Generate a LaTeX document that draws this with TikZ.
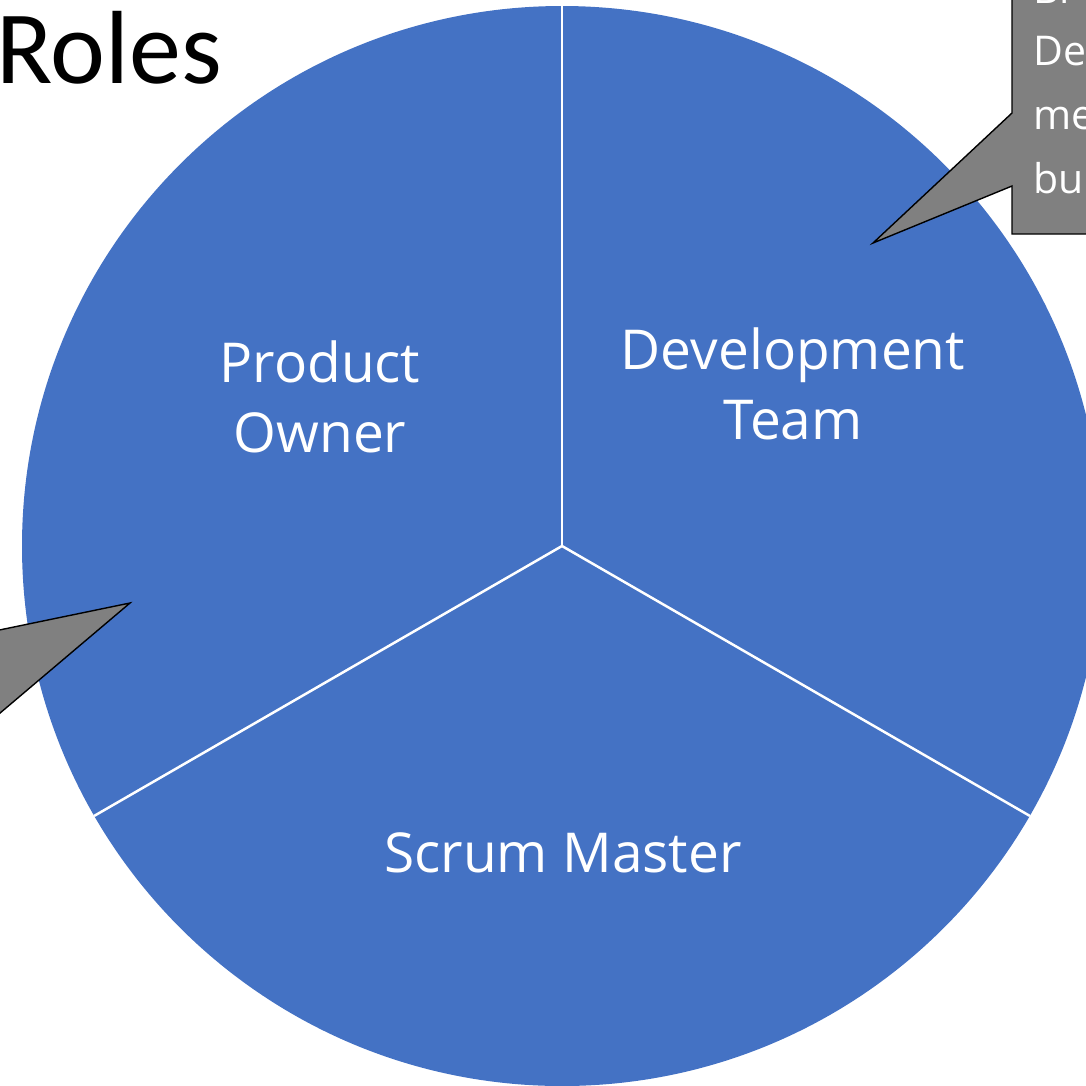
\documentclass[tikz,border=0pt]{standalone}
\usepackage{fontspec}
\setmainfont{Carlito}
\newfontfamily\labfont{Open Sans}
\definecolor{pieblue}{HTML}{4472C4}
\definecolor{callgray}{HTML}{808080}
\tikzset{
  divider/.style={draw=white, line width=2.5pt},
  role/.style={text=white, font=\labfont\fontsize{55}{70}\selectfont, align=center, inner sep=0pt},
  callout/.style={fill=callgray, draw=black, line width=1.4pt, line join=miter},
  calltext/.style={text=white, font=\labfont\fontsize{41}{64}\selectfont, anchor=base west, inner sep=0pt},
}
\begin{document}
\begin{tikzpicture}[x=1pt,y=-1pt]
\useasboundingbox (0,0) rectangle (1086,1085);
\clip (0,0) rectangle (1086,1085);
\coordinate (c) at (562,546);
\coordinate (ptop) at (562,6);
\coordinate (pll) at (94,816);
\coordinate (plr) at (1030,816);
% pie
\fill[pieblue] (c) circle (540);
\draw[divider] (c) -- (ptop);
\draw[divider] (c) -- (pll);
\draw[divider] (c) -- (plr);
% labels
\node[role, anchor=base] (po1) at (320,382) {Product};
\node[role, anchor=base] (po2) at (320,452) {Owner};
\node[role, anchor=base] (dt1) at (793,369) {Development};
\node[role, anchor=base] (dt2) at (793,439) {Team};
\node[role, anchor=base] (sm) at (563,872) {Scrum Master};
% title
\node[font=\fontsize{104}{110}\selectfont, anchor=base east, inner sep=0pt] (title) at (222,83) {Roles};
% top-right callout
\coordinate (tip1) at (873,243);
\draw[callout] (1012,-5) -- (1012,113) -- (tip1) -- (1012,186) -- (1012,234) -- (1100,234) -- (1100,-5) -- cycle;
\node[calltext] (l0) at (1033,3) {Br};
\node[calltext] (l1) at (1033,65) {De};
\node[calltext] (l2) at (1033,129) {me};
\node[calltext] (l3) at (1033,193) {bu};
% left callout
\coordinate (tip2) at (130,603);
\draw[callout] (-20,634) -- (tip2) -- (-20,730) -- cycle;
\end{tikzpicture}
\end{document}
